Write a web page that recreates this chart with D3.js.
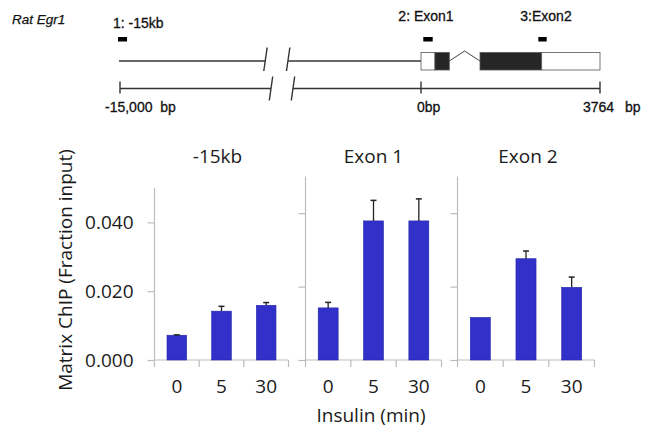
<!DOCTYPE html>
<html>
<head>
<meta charset="utf-8">
<script src="https://cdn.jsdelivr.net/npm/d3@7"></script>
<style>
  html, body { margin: 0; padding: 0; background: #fff; }
  svg { display: block; }
</style>
</head>
<body>
<svg id="chart" width="650" height="434"></svg>
<script>
// ---------- DATA ----------
const timepoints = ["0", "5", "30"];
const regions = ["-15kb", "Exon 1", "Exon 2"];
const chipMinus15kb = [0.0072, 0.0142, 0.0159];
const chipExon1 = [0.0142, 0.0379, 0.0379];
const chipExon2 = [0.0116, 0.0276, 0.0198];
const errMinus15kb = [0.0001, 0.0014, 0.0008];
const errExon1 = [0.0015, 0.0056, 0.0060];
const errExon2 = [0.0, 0.0021, 0.0028];
const yTicks = [0, 0.02, 0.04];
const yMax = 0.05;
const yTitle = "Matrix ChIP (Fraction input)";
const xTitle = "Insulin (min)";

// gene diagram (bp coordinates)
const geneName = "Rat Egr1";
const geneSpan = [-15050, 0];              // upstream line
const geneBreak = [-7750, -6620];          // break on gene line
const scaleBreak = [-7475, -6380];         // break on scale line
const exonBlocks = [                       // [start, end, type]
  [0, 294, "utr"], [294, 595, "cds"], [1241, 2538, "cds"], [2538, 3764, "utr"]
];
const intron = [595, 1241];
const primers = [[-15100, -14650], [48, 246], [2467, 2643]];
const primerLabels = ["1: -15kb", "2: Exon1", "3:Exon2"];
const scaleTicks = [-15000, 0, 3764];
const scaleLabels = ["-15,000  bp", "0bp", "3764"];
const scaleUnit = "bp";

// ---------- DRAW ----------
const svg = d3.select("#chart");
const font = "'Open Sans', sans-serif";
const arial = "'Liberation Sans', Arial, sans-serif";

// genomic x scale
const gx = d3.scaleLinear().domain([-15000, 0, 3764]).range([120, 421, 600]);
const g = svg.append("g");
const lineCol = "#333";

g.append("text").attr("x", 12).attr("y", 23.5).text(geneName)
  .attr("font-family", arial).attr("font-style", "italic").attr("font-size", 13.5).attr("fill", "#111")
  .attr("stroke", "#111").attr("stroke-width", 0.25);

// gene line with break
const geneY = 61;
g.append("line").attr("x1", gx(geneSpan[0])).attr("x2", gx(geneBreak[0])).attr("y1", geneY).attr("y2", geneY)
  .attr("stroke", lineCol).attr("stroke-width", 1.4);
g.append("line").attr("x1", gx(geneBreak[1])).attr("x2", gx(geneSpan[1])).attr("y1", geneY).attr("y2", geneY)
  .attr("stroke", lineCol).attr("stroke-width", 1.4);
geneBreak.forEach(b => {
  g.append("line").attr("x1", gx(b) + 1.7).attr("y1", geneY - 13.5).attr("x2", gx(b) - 1.7).attr("y2", geneY + 10)
    .attr("stroke", lineCol).attr("stroke-width", 1.4);
});
// intron chevron
const midI = (intron[0] + intron[1]) / 2;
g.append("path")
  .attr("d", `M${gx(intron[0])},${geneY} L${gx(midI)},${geneY - 10} L${gx(intron[1])},${geneY}`)
  .attr("fill", "none").attr("stroke", "#444").attr("stroke-width", 1);
// exons
exonBlocks.forEach(([s, e, t]) => {
  g.append("rect").attr("x", gx(s)).attr("y", 52.5).attr("width", gx(e) - gx(s)).attr("height", 17.5)
    .attr("fill", t === "cds" ? "#262626" : "#fff").attr("stroke", "#555").attr("stroke-width", 0.8);
});
// primers
primers.forEach(([s, e], i) => {
  g.append("rect").attr("x", gx(s)).attr("y", 37).attr("width", gx(e) - gx(s)).attr("height", 4.5).attr("fill", "#000");
});
const primerLabelPos = [{x: 113, a: "start"}, {x: 426, a: "middle"}, {x: 546, a: "middle"}];
primerLabels.forEach((t, i) => {
  g.append("text").attr("x", primerLabelPos[i].x).attr("y", i === 0 ? 28.3 : 21)
    .attr("text-anchor", primerLabelPos[i].a).text(t)
    .attr("font-family", arial).attr("font-size", 14).attr("fill", "#111")
    .attr("stroke", "#111").attr("stroke-width", 0.3);
});
// scale line
const scY = 88.5;
g.append("line").attr("x1", gx(-15000)).attr("x2", gx(scaleBreak[0])).attr("y1", scY).attr("y2", scY)
  .attr("stroke", lineCol).attr("stroke-width", 1.4);
g.append("line").attr("x1", gx(scaleBreak[1])).attr("x2", gx(3764)).attr("y1", scY).attr("y2", scY)
  .attr("stroke", lineCol).attr("stroke-width", 1.4);
scaleBreak.forEach(b => {
  g.append("line").attr("x1", gx(b) + 1.7).attr("y1", scY - 12).attr("x2", gx(b) - 1.7).attr("y2", scY + 12)
    .attr("stroke", lineCol).attr("stroke-width", 1.4);
});
scaleTicks.forEach(t => {
  g.append("line").attr("x1", gx(t)).attr("x2", gx(t)).attr("y1", scY - 7).attr("y2", scY + 5)
    .attr("stroke", lineCol).attr("stroke-width", 1.4);
});
const scaleLabelDx = [-15, -4, -17];
scaleLabels.forEach((t, i) => {
  g.append("text").attr("x", gx(scaleTicks[i]) + scaleLabelDx[i]).attr("y", 112).text(t)
    .attr("xml:space", "preserve").style("white-space", "pre")
    .attr("font-family", arial).attr("font-size", 14).attr("fill", "#111")
    .attr("stroke", "#111").attr("stroke-width", 0.3);
});
g.append("text").attr("x", 625).attr("y", 112).text(scaleUnit)
  .attr("font-family", arial).attr("font-size", 14).attr("fill", "#111")
  .attr("stroke", "#111").attr("stroke-width", 0.3);

// ---------- BAR PANELS ----------
const values = [chipMinus15kb, chipExon1, chipExon2];
const errors = [errMinus15kb, errExon1, errExon2];
const panels = [
  {x0: 154.5, x1: 288.5, top: 188},
  {x0: 305.5, x1: 441.5, top: 176.5},
  {x0: 457.5, x1: 594.5, top: 176.5}
];
const baseY = 360;
const axisCol = "#bdbdbd";
const barCol = "#3131c9";

panels.forEach((p, pi) => {
  const y = d3.scaleLinear().domain([0, yMax]).range([baseY, p.top]);
  const x = d3.scaleBand().domain(timepoints).range([p.x0, p.x1]).paddingInner(0.56).paddingOuter(0.28);
  const pg = svg.append("g");

  // y axis
  const yAx = pg.append("g").attr("transform", `translate(${p.x0},0)`)
    .call(d3.axisLeft(y).tickValues(yTicks).tickSize(7).tickPadding(14)
      .tickFormat(pi === 0 ? d3.format(".3f") : () => ""));
  yAx.select(".domain").attr("d", `M0,${baseY + 7}V${p.top}`).attr("stroke", axisCol).attr("stroke-width", 1.2);
  yAx.selectAll(".tick line").attr("stroke", axisCol).attr("stroke-width", 1.2);
  yAx.selectAll(".tick text").attr("font-family", font).attr("font-size", 19).attr("fill", "#1a1a1a");

  // x axis
  pg.append("line").attr("x1", p.x0).attr("x2", p.x1).attr("y1", baseY).attr("y2", baseY)
    .attr("stroke", axisCol).attr("stroke-width", 1.2);
  d3.range(1, timepoints.length + 1).forEach(k => {
    const xx = p.x0 + (p.x1 - p.x0) * k / timepoints.length;
    pg.append("line").attr("x1", xx).attr("x2", xx).attr("y1", baseY).attr("y2", baseY + 7)
      .attr("stroke", axisCol).attr("stroke-width", 1.2);
  });
  timepoints.forEach(t => {
    pg.append("text").attr("x", x(t) + x.bandwidth() / 2).attr("y", 393).attr("text-anchor", "middle").text(t)
      .attr("font-family", font).attr("font-size", 19).attr("fill", "#1a1a1a");
  });

  // bars
  pg.selectAll("rect.bar").data(values[pi]).join("rect").attr("class", "bar")
    .attr("x", (d, i) => x(timepoints[i])).attr("width", x.bandwidth())
    .attr("y", d => y(d)).attr("height", d => baseY - y(d))
    .attr("fill", barCol).attr("stroke", "#2626a8").attr("stroke-width", 0.6);

  // error bars (upper)
  values[pi].forEach((v, i) => {
    const e = errors[pi][i];
    if (e <= 0) return;
    const cx = x(timepoints[i]) + x.bandwidth() / 2;
    pg.append("line").attr("x1", cx).attr("x2", cx).attr("y1", y(v)).attr("y2", y(v + e))
      .attr("stroke", "#222").attr("stroke-width", 1.3);
    pg.append("line").attr("x1", cx - 3).attr("x2", cx + 3).attr("y1", y(v + e)).attr("y2", y(v + e))
      .attr("stroke", "#222").attr("stroke-width", 1.5);
  });

  // title
  pg.append("text").attr("x", (p.x0 + p.x1) / 2 + (pi === 0 ? -4 : 0) + (pi === 2 ? 2 : 0)).attr("y", 163)
    .attr("text-anchor", "middle").text(regions[pi])
    .attr("font-family", font).attr("font-size", 19).attr("fill", "#1a1a1a");
});

svg.append("text").attr("transform", "translate(71.5,270) rotate(-90)").attr("text-anchor", "middle")
  .text(yTitle).attr("font-family", font).attr("font-size", 19).attr("fill", "#1a1a1a");
svg.append("text").attr("x", 371).attr("y", 422).attr("text-anchor", "middle")
  .text(xTitle).attr("font-family", font).attr("font-size", 19).attr("fill", "#1a1a1a");
</script>
</body>
</html>
